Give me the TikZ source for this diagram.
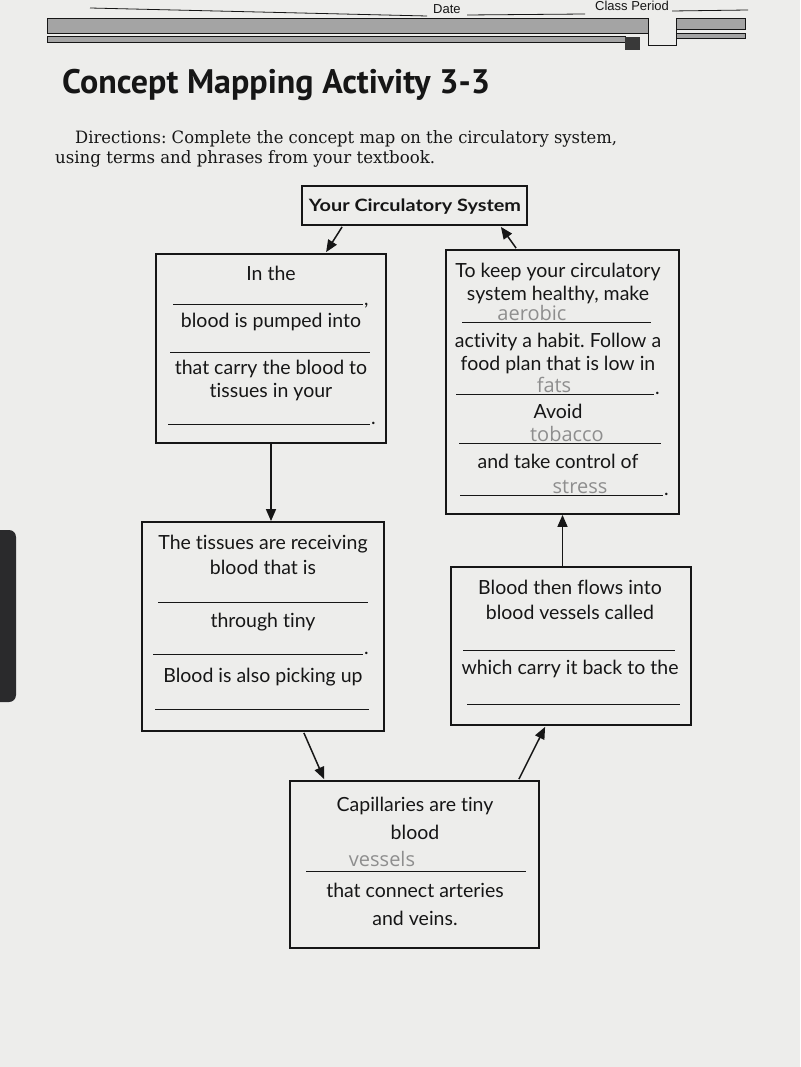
\documentclass[tikz,border=0pt]{standalone}
\usepackage{fontspec}
\setmainfont{Lato}[Ligatures={NoCommon,NoContextual}]
\newfontfamily\titlefont{PT Sans}
\newfontfamily\dirfont{DejaVu Serif}
\newfontfamily\handfont{Open Sans}
\newfontfamily\headfont{Liberation Sans}
\usetikzlibrary{arrows.meta,calc}
\definecolor{paper}{HTML}{EDEDEB}
\definecolor{ink}{HTML}{161616}
\definecolor{pencil}{HTML}{8E8E8E}
\definecolor{barfill}{HTML}{A4A4A4}
\definecolor{binder}{HTML}{2A2A2C}
\frenchspacing
\begin{document}
\begin{tikzpicture}[x=1pt,y=-1pt,
  box/.style={draw=ink, line width=1.8pt, inner sep=0pt},
  txt/.style={font=\fontsize{19.5}{21}\selectfont, text=ink, anchor=base, inner sep=0pt},
  punct/.style={font=\fontsize{19.5}{21}\selectfont, text=ink, anchor=base west, inner sep=0pt},
  blank/.style={draw=ink, line width=1pt},
  hand/.style={font=\handfont\fontsize{20}{22}\selectfont, text=pencil, anchor=base, inner sep=0pt},
  head/.style={font=\headfont\fontsize{13}{14}\selectfont, text=ink, anchor=base west, inner sep=0pt},
  link/.style={draw=ink, line width=1.5pt, -{Triangle[length=12pt,width=10pt]}},
]
\fill[paper] (0,0) rectangle (800,1067);
\useasboundingbox (0,0) rectangle (800,1067);

% binder edge
\fill[binder, rounded corners=7pt] (-10,530) rectangle (16,702);

% header
\draw[ink, line width=0.8pt] (90,8) -- (427,16);
\node[head] (date) at (433,14) {Date};
\draw[ink, line width=0.8pt] (467,15) -- (585,14);
\node[head] (period) at (595,11) {Class Period};
\draw[ink, line width=0.8pt] (672,11) -- (748,10);

% decorative bar
\draw[ink, fill=barfill, line width=0.8pt] (47,18) rectangle (648,33);
\draw[ink, fill=barfill, line width=0.8pt] (676,18) rectangle (745,29);
\draw[ink, fill=barfill, line width=0.8pt] (47,36) rectangle (625,42);
\draw[ink, fill=barfill, line width=0.8pt] (676,33) rectangle (745,38);
\draw[ink, line width=0.8pt] (648,33) -- (648,45) -- (676,45) -- (676,29);
\fill[ink!85] (625,37) rectangle (640,50);

% title and directions
\node[anchor=base west, inner sep=0pt, text=ink, font=\titlefont\bfseries\fontsize{34}{36}\selectfont] (title) at (62,94) {Concept Mapping Activity 3-3};
\node[anchor=base west, inner sep=0pt, text=ink, font=\dirfont\fontsize{17}{19}\selectfont] (dir1) at (75,144) {\resizebox{542pt}{\height}{Directions: Complete the concept map on the circulatory system,}};
\node[anchor=base west, inner sep=0pt, text=ink, font=\dirfont\fontsize{17}{19}\selectfont] (dir2) at (55,164) {\resizebox{380pt}{\height}{using terms and phrases from your textbook.}};

% boxes
\node[box, minimum width=225pt, minimum height=39pt] (S) at (414.5,205.5) {};
\node[anchor=base, inner sep=0pt, text=ink, font=\bfseries\fontsize{17}{19}\selectfont] (st) at (415,212) {\resizebox{212pt}{\height}{Your Circulatory System}};
\node[box, minimum width=230pt, minimum height=189pt] (A) at (271,348.5) {};
\node[box, minimum width=233pt, minimum height=264pt] (B) at (562.5,382) {};
\node[box, minimum width=242pt, minimum height=209pt] (C) at (263,626.5) {};
\node[box, minimum width=240pt, minimum height=158pt] (E) at (571,646) {};
\node[box, minimum width=249pt, minimum height=167pt] (D) at (414.5,864.5) {};

% box A
\node[txt] (a1) at (271,280) {In the};
\draw[blank] (173,304) -- (363,304);
\node[punct] (a1p) at (364,305) {,};
\node[txt] (a2) at (271,327) {blood is pumped into};
\draw[blank] (170,352) -- (370,352);
\node[txt] (a3) at (271,374) {that carry the blood to};
\node[txt] (a4) at (271,397) {tissues in your};
\draw[blank] (168,424) -- (370,424);
\node[punct] (a4p) at (371,424) {.};

% box B
\node[txt] (b1) at (558,277) {To keep your circulatory};
\node[txt] (b2) at (558,300) {system healthy, make};
\node[hand] (h1) at (532,320) {aerobic};
\draw[blank] (462,322) -- (651,322);
\node[txt] (b3) at (558,347) {activity a habit. Follow a};
\node[txt] (b4) at (558,370) {food plan that is low in};
\node[hand] (h2) at (554,392) {fats};
\draw[blank] (456,394) -- (654,394);
\node[punct] (b4p) at (655,394) {.};
\node[txt] (b5) at (558,418) {Avoid};
\node[hand] (h3) at (567,441) {tobacco};
\draw[blank] (459,443) -- (661,443);
\node[txt] (b6) at (558,468) {and take control of};
\node[hand] (h4) at (580,493) {stress};
\draw[blank] (460,495) -- (663,495);
\node[punct] (b6p) at (664,495) {.};

% box C
\node[txt] (c1) at (263,549) {The tissues are receiving};
\node[txt] (c2) at (263,574) {blood that is};
\draw[blank] (158,602) -- (368,602);
\node[txt] (c3) at (263,627) {through tiny};
\draw[blank] (153,654) -- (363,654);
\node[punct] (c3p) at (364,654) {.};
\node[txt] (c4) at (263,682) {Blood is also picking up};
\draw[blank] (155,709) -- (369,709);

% box E
\node[txt] (e1) at (570,594) {Blood then flows into};
\node[txt] (e2) at (570,619) {blood vessels called};
\draw[blank] (463,650) -- (675,650);
\node[txt] (e3) at (570,674) {which carry it back to the};
\draw[blank] (467,704) -- (680,704);

% box D
\node[txt] (d1) at (415,811) {Capillaries are tiny};
\node[txt] (d2) at (415,839) {blood};
\node[hand] (h5) at (382,866) {vessels};
\draw[blank] (306,871) -- (526,871);
\node[txt] (d3) at (415,897) {that connect arteries};
\node[txt] (d4) at (415,925) {and veins.};

% connectors
\draw[link] ($(S.south west)+(41,1)$) -- ($(A.north west)+(171,-1)$);
\draw[link] ($(B.north west)+(71,-1)$) -- ($(S.south east)+(-27,1)$);
\draw[link] (A.south) -- (C.north -| A.south);
\draw[link] ($(C.south east)+(-81,1)$) -- ($(D.north west)+(35,-1)$);
\draw[link] ($(D.north east)+(-21,-1)$) -- ($(E.south west)+(95,1)$);
\draw[link] (E.north -| B.south) -- (B.south);
\end{tikzpicture}
\end{document}
